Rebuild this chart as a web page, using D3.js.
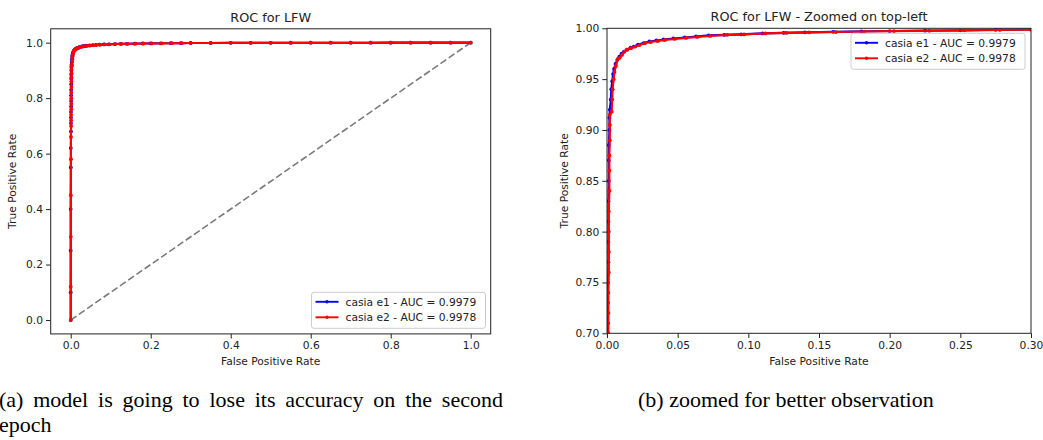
<!DOCTYPE html>
<html>
<head>
<meta charset="utf-8">
<script src="https://cdn.jsdelivr.net/npm/d3@7"></script>
<style>
  body { margin: 0; background: #fff; }
  svg { display: block; }
  .axis text { font-family: "DejaVu Sans", sans-serif; font-size: 10.7px; fill: #222; }
  .axis path, .axis line { stroke: #222; stroke-width: 1px; }
  .lbl { font-family: "DejaVu Sans", sans-serif; font-size: 10.7px; fill: #222; }
  .ttl { font-family: "DejaVu Sans", sans-serif; font-size: 12.8px; fill: #222; }
  .cap { font-family: "Liberation Serif", "Times New Roman", serif; font-size: 22px; fill: #000; }
</style>
</head>
<body>
<svg id="chart" width="1043" height="440"></svg>
<script>
// ROC points (casia e1 / casia e2)
const e1Fpr = [0, 0, 0, 0, 0.0003, 0.0003, 0.0007, 0.0007, 0.0007, 0.0007, 0.001, 0.001, 0.001, 0.001,
  0.0013, 0.0013, 0.0013, 0.0017, 0.0017, 0.002, 0.0027, 0.003, 0.0037, 0.0043, 0.005, 0.006, 0.0073,
  0.0087, 0.0103, 0.012, 0.014, 0.0167, 0.019, 0.022, 0.026, 0.03, 0.035, 0.04, 0.047, 0.055, 0.063,
  0.072, 0.083, 0.095, 0.11, 0.125, 0.14, 0.16, 0.18, 0.2, 0.225, 0.25, 0.275, 0.3, 0.35, 0.4, 0.45,
  0.5, 0.55, 0.6, 0.65, 0.7, 0.75, 0.8, 0.85, 0.9, 0.95, 1];
const e1Tpr = [0, 0.10, 0.25, 0.40, 0.55, 0.62, 0.68, 0.71, 0.73, 0.75, 0.77, 0.79, 0.81, 0.83,
  0.85, 0.87, 0.885, 0.90, 0.912, 0.92, 0.93, 0.94, 0.948, 0.955, 0.96, 0.965, 0.969,
  0.972, 0.975, 0.977, 0.979, 0.981, 0.982, 0.984, 0.9855, 0.987, 0.988, 0.989, 0.990, 0.991, 0.992,
  0.993, 0.9935, 0.994, 0.995, 0.9955, 0.996, 0.9965, 0.997, 0.9973, 0.9977, 0.998, 0.9985, 0.9988, 0.999, 0.9993, 0.9995,
  0.9996, 0.9997, 0.9998, 0.9998, 0.9999, 0.9999, 1, 1, 1, 1, 1];

const e2Fpr = [0, 0, 0.0003, 0.0003, 0.0007, 0.0007, 0.001, 0.001, 0.001, 0.0013, 0.0013, 0.0013, 0.0013,
  0.0017, 0.0017, 0.0017, 0.002, 0.002, 0.002, 0.0033, 0.0037, 0.004, 0.0047, 0.0053, 0.0063, 0.0077,
  0.009, 0.0107, 0.0123, 0.0143, 0.017, 0.02, 0.023, 0.027, 0.031, 0.036, 0.041, 0.048, 0.056, 0.064,
  0.073, 0.085, 0.097, 0.112, 0.127, 0.143, 0.162, 0.182, 0.203, 0.228, 0.253, 0.278, 0.3, 0.35, 0.4,
  0.45, 0.5, 0.55, 0.6, 0.65, 0.7, 0.75, 0.8, 0.85, 0.9, 0.95, 1];
const e2Tpr = [0, 0.12, 0.30, 0.45, 0.58, 0.66, 0.70, 0.72, 0.74, 0.76, 0.78, 0.80, 0.82,
  0.84, 0.86, 0.875, 0.89, 0.905, 0.915, 0.918, 0.93, 0.94, 0.95, 0.957, 0.963, 0.97,
  0.971, 0.974, 0.977, 0.979, 0.9805, 0.982, 0.9835, 0.9855, 0.9865, 0.9875, 0.9885, 0.9895, 0.9905, 0.9915,
  0.9925, 0.9935, 0.994, 0.995, 0.9955, 0.996, 0.9963, 0.9968, 0.9972, 0.9976, 0.998, 0.9984, 0.9987, 0.999, 0.9993,
  0.9995, 0.9996, 0.9997, 0.9998, 0.9998, 0.9999, 0.9999, 1, 1, 1, 1, 1];

const seriesNames = ["casia e1 - AUC = 0.9979", "casia e2 - AUC = 0.9978"];
const seriesColors = ["#0000ff", "#ff0000"];

const fullTicks = [0, 0.2, 0.4, 0.6, 0.8, 1.0];
const zoomXTicks = [0, 0.05, 0.1, 0.15, 0.2, 0.25, 0.3];
const zoomYTicks = [0.7, 0.75, 0.8, 0.85, 0.9, 0.95, 1.0];

const captions = [
  ["(a) model is going to lose its accuracy on the second", "epoch"],
  ["(b) zoomed for better observation"]
];

const series = [
  {name: seriesNames[0], color: seriesColors[0], pts: e1Fpr.map((f, i) => [f, e1Tpr[i]])},
  {name: seriesNames[1], color: seriesColors[1], pts: e2Fpr.map((f, i) => [f, e2Tpr[i]])}
];

const svg = d3.select("#chart");

function drawPanel(p) {
  const x = d3.scaleLinear().domain(p.xDomain).range([p.left, p.right]);
  const y = d3.scaleLinear().domain(p.yDomain).range([p.bottom, p.top]);
  const g = svg.append("g").attr("class", "panel");

  g.append("clipPath").attr("id", p.id + "-clip")
    .append("rect")
      .attr("x", p.left).attr("y", p.top)
      .attr("width", p.right - p.left).attr("height", p.bottom - p.top);

  const plot = g.append("g").attr("clip-path", `url(#${p.id}-clip)`);

  if (p.diagonal) {
    plot.append("path")
      .attr("fill", "none")
      .attr("stroke", "#7a7a7a")
      .attr("stroke-width", 1.6)
      .attr("stroke-dasharray", "7,3")
      .attr("d", d3.line().x(d => x(d[0])).y(d => y(d[1]))([[0, 0], [1, 1]]));
  }

  const line = d3.line().x(d => x(d[0])).y(d => y(d[1]));

  series.forEach(s => {
    plot.append("path")
      .attr("fill", "none")
      .attr("stroke", s.color)
      .attr("stroke-width", 2.1)
      .attr("stroke-linejoin", "round")
      .attr("d", line(s.pts));
    plot.append("g").selectAll("circle")
      .data(s.pts).join("circle")
        .attr("cx", d => x(d[0]))
        .attr("cy", d => y(d[1]))
        .attr("r", 1.9)
        .attr("fill", s.color);
  });

  // frame
  g.append("rect")
    .attr("x", p.left).attr("y", p.top)
    .attr("width", p.right - p.left).attr("height", p.bottom - p.top)
    .attr("fill", "none").attr("stroke", "#222").attr("stroke-width", 1);

  g.append("g").attr("class", "axis")
    .attr("transform", `translate(0,${p.bottom})`)
    .call(d3.axisBottom(x).tickValues(p.xTicks).tickFormat(d3.format(p.fmt)).tickSize(4.7).tickPadding(3))
    .call(a => a.select(".domain").remove());

  g.append("g").attr("class", "axis")
    .attr("transform", `translate(${p.left},0)`)
    .call(d3.axisLeft(y).tickValues(p.yTicks).tickFormat(d3.format(p.fmt)).tickSize(4.7).tickPadding(3))
    .call(a => a.select(".domain").remove());

  const cx = (p.left + p.right) / 2;
  g.append("text").attr("class", "ttl")
    .attr("x", cx).attr("y", p.top - 7)
    .attr("text-anchor", "middle").text(p.title);

  g.append("text").attr("class", "lbl")
    .attr("x", cx).attr("y", 365)
    .attr("text-anchor", "middle").text("False Positive Rate");

  g.append("text").attr("class", "lbl")
    .attr("transform", `translate(${p.yLabelX},${(p.top + p.bottom) / 2}) rotate(-90)`)
    .attr("text-anchor", "middle").text("True Positive Rate");

  // legend
  const lg = g.append("g").attr("transform", `translate(${p.legend[0]},${p.legend[1]})`);
  lg.append("rect")
    .attr("width", 174).attr("height", 36).attr("rx", 2.5)
    .attr("fill", "#fff").attr("fill-opacity", 0.8)
    .attr("stroke", "#cccccc").attr("stroke-width", 1);
  series.forEach((s, i) => {
    const yy = 9.5 + i * 15.5;
    lg.append("line")
      .attr("x1", 4).attr("x2", 27).attr("y1", yy).attr("y2", yy)
      .attr("stroke", s.color).attr("stroke-width", 1.9);
    lg.append("circle").attr("cx", 15.5).attr("cy", yy).attr("r", 1.7).attr("fill", s.color);
    lg.append("text").attr("class", "lbl")
      .attr("x", 34).attr("y", yy + 3.8).text(s.name);
  });
}

drawPanel({
  id: "full", left: 50.7, right: 490.7, top: 28.8, bottom: 333.9,
  xDomain: [-0.05, 1.05], yDomain: [-0.05, 1.05],
  xTicks: fullTicks, yTicks: fullTicks, fmt: ".1f",
  title: "ROC for LFW", yLabelX: 16, diagonal: true, legend: [311.5, 292.3]
});

drawPanel({
  id: "zoom", left: 607, right: 1031, top: 28.3, bottom: 333.3,
  xDomain: [0, 0.3], yDomain: [0.7, 1.0],
  xTicks: zoomXTicks, yTicks: zoomYTicks, fmt: ".2f",
  title: "ROC for LFW - Zoomed on top-left", yLabelX: 568, diagonal: false, legend: [851, 33.3]
});

// subfigure captions; first line of (a) is justified like the LaTeX source
const capA = svg.append("text").attr("class", "cap").attr("x", -1).attr("y", 407).text(captions[0][0]);
const natural = capA.node().getComputedTextLength();
const gaps = captions[0][0].split(" ").length - 1;
capA.attr("word-spacing", Math.max(0, (504 - natural) / gaps).toFixed(2));
svg.append("text").attr("class", "cap").attr("x", -1).attr("y", 432).text(captions[0][1]);
svg.append("text").attr("class", "cap").attr("x", 638).attr("y", 407).text(captions[1][0]);
</script>
</body>
</html>
